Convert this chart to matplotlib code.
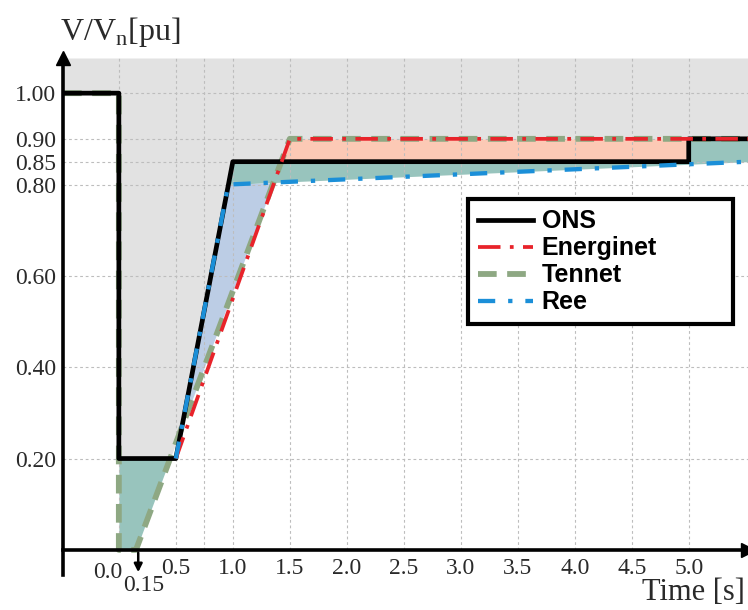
import numpy as np
import matplotlib
matplotlib.use('Agg')
import matplotlib.pyplot as plt

# LVRT curves (time in s, voltage in pu)
t_ons = [-0.49, 0.0, 0.0, 0.5, 1.0, 5.0, 5.0, 5.52]
v_ons = [1.0, 1.0, 0.2, 0.2, 0.85, 0.85, 0.9, 0.9]
t_energinet = [0.5, 1.5, 5.52]
v_energinet = [0.2, 0.9, 0.9]
t_tennet = [-0.49, 0.0, 0.0, 0.15, 1.5, 5.52]
v_tennet = [1.0, 1.0, 0.0, 0.0, 0.9, 0.9]
t_ree = [0.5, 0.96, 5.52]
v_ree = [0.2, 0.8, 0.85]

xticks = [0.5, 1.0, 1.5, 2.0, 2.5, 3.0, 3.5, 4.0, 4.5, 5.0]
xgrid = [0.0, 0.5, 0.75, 1.0, 1.5, 2.0, 2.5, 3.0, 3.5, 4.0, 4.5, 5.0]
yticks = [0.2, 0.4, 0.6, 0.8, 0.85, 0.9, 1.0]

xmin, xmax = -0.49, 5.52
ymin, ymax = -0.055, 1.077

plt.rcParams['mathtext.fontset'] = 'custom'
plt.rcParams['mathtext.rm'] = 'Liberation Serif'
serif = 'Liberation Serif'


def sample(tp, vp, t):
    # repeated times are vertical steps; nudge them so np.interp accepts them
    tp = np.array(tp, dtype=float)
    for i in range(1, len(tp)):
        if tp[i] <= tp[i - 1]:
            tp[i] = tp[i - 1] + 1e-9
    return np.interp(t, tp, vp)


t = np.union1d(np.linspace(xmin, xmax, 12001),
               np.array(t_ons + t_tennet + t_energinet + t_ree))
ons = sample(t_ons, v_ons, t)
en = sample(t_energinet, v_energinet, t)
te = sample(t_tennet, v_tennet, t)
ree = sample(t_ree, v_ree, t)
env = np.maximum.reduce([ons, en, te, ree])
upper_ramp = np.maximum(en, te)

fig = plt.figure(figsize=(7.48, 6.10), dpi=100)
ax = fig.add_axes([63 / 748, 35 / 610, 685 / 748, 517 / 610])
ax.set_xlim(xmin, xmax)
ax.set_ylim(ymin, ymax)

# shaded regions
ax.fill_between(t, env, ymax, color='#e2e2e2', lw=0, zorder=1)
ax.fill_between(t, te, ons, where=(t <= 0.5) & (te < ons), interpolate=True,
                color='#98c4bd', lw=0, zorder=1)
ax.fill_between(t, ree, ons, where=(t >= 0.96), interpolate=True,
                color='#98c4bd', lw=0, zorder=1)
ax.fill_between(t, ons, upper_ramp, where=(t >= 1.0) & (upper_ramp > ons),
                interpolate=True, color='#fcc9b5', lw=0, zorder=1)
ax.fill_between(t, upper_ramp, ree, where=(t >= 0.5) & (ree > upper_ramp),
                interpolate=True, color='#bccde5', lw=0, zorder=1)

# dotted grid
for x in xgrid:
    ax.plot([x, x], [0, ymax], color='#bdbdbd', lw=0.8, dashes=(2.5, 2.5), zorder=2)
for y in yticks:
    ax.plot([xmin, xmax], [y, y], color='#bdbdbd', lw=0.8, dashes=(2.5, 2.5), zorder=2)

# curves
l_te, = ax.plot(t_tennet, v_tennet, color='#8ea883', lw=4.2, dashes=(3.2, 1.8),
                zorder=4, label='Tennet')
l_ons, = ax.plot(t_ons, v_ons, color='black', lw=3.4, zorder=5, label='ONS')
l_en, = ax.plot(t_energinet, v_energinet, color='#e8232a', lw=2.7,
                dashes=(6, 2.5, 1, 2.5), zorder=6, label='Energinet')
l_ree, = ax.plot(t_ree, v_ree, color='#1b8fd8', lw=3.1, dashes=(4, 3, 1, 3),
                 zorder=7, label='Ree')

# axes as arrows
for s in ['top', 'right']:
    ax.spines[s].set_visible(False)
ax.spines['bottom'].set_position(('data', 0))
ax.spines['left'].set_linewidth(2.6)
ax.spines['bottom'].set_linewidth(2.6)
ax.spines['left'].set_zorder(8)
ax.spines['bottom'].set_zorder(8)
ax.plot(0, 1, marker='^', color='black', ms=10, transform=ax.transAxes,
        clip_on=False, zorder=9)
ax.plot(xmax, 0, marker='>', color='black', ms=10, clip_on=False, zorder=9)

ax.set_xticks(xticks)
ax.set_xticklabels([f'{x:.1f}' for x in xticks])
ax.set_yticks(yticks)
ax.set_yticklabels([f'{y:.2f}' for y in yticks])
ax.tick_params(length=0, labelsize=17, colors='#2a2a2a')
ax.tick_params(axis='x', pad=6)
ax.tick_params(axis='y', pad=5)
for lab in ax.get_xticklabels() + ax.get_yticklabels():
    lab.set_family(serif)

ax.text(-0.1, -0.026, '0.0', ha='center', va='top', fontsize=17,
        family=serif, color='#2a2a2a')
ax.annotate('', xy=(0.17, -0.055), xytext=(0.17, 0.0), annotation_clip=False,
            arrowprops=dict(arrowstyle='-|>', color='black', lw=1.8,
                            mutation_scale=12), zorder=9)
ax.text(0.22, -0.079, '0.15', ha='center', va='center', fontsize=17,
        family=serif, color='#2a2a2a', clip_on=False)

fig.text(60 / 748, 1 - 40 / 610, r'V/V$_{\mathrm{n}}$[pu]', fontsize=23,
         family=serif, color='#2a2a2a', va='baseline', ha='left')
fig.text(745 / 748, 1 - 592 / 610, 'Time [s]', fontsize=22,
         family=serif, color='#2a2a2a', va='center', ha='right')

leg = ax.legend(handles=[l_ons, l_en, l_te, l_ree],
                loc='upper left', bbox_to_anchor=(0.591, 0.4836, 0.387, 0.243),
                mode='expand', borderaxespad=0, fancybox=False, framealpha=1,
                edgecolor='black', handlelength=2.2, handletextpad=0.35,
                labelspacing=0.12, borderpad=0.4,
                prop={'family': 'Liberation Sans', 'weight': 'bold', 'size': 18})
leg.get_frame().set_linewidth(3.0)
leg.set_zorder(10)

fig.savefig('out.png', dpi=100)
